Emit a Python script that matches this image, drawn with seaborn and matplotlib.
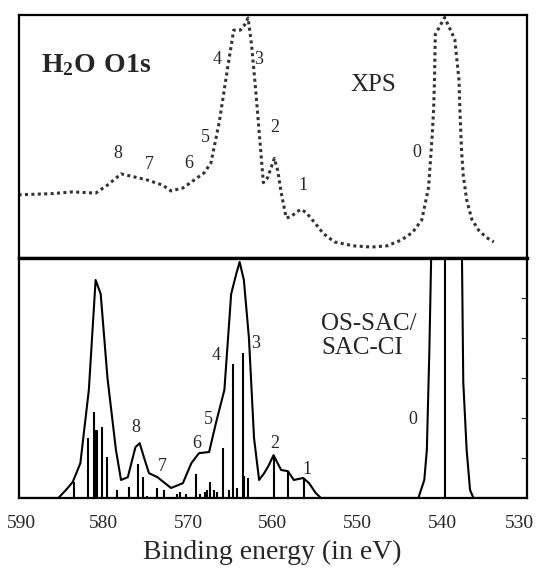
import numpy as np
import pandas as pd
import seaborn as sns
import matplotlib.pyplot as plt
from matplotlib.transforms import ScaledTranslation

# ----------- data -----------
# XPS spectrum (top panel), binding energy in eV and intensity (0-100 = panel height)
xps_energy = [590, 586, 583.6, 580.9, 579.5, 577.9, 576.5, 574.7, 573.0, 572.0, 570.6, 569.3,
              568.1, 567.3, 566.9, 566.3, 565.9, 565.3, 564.6, 563.8, 563.3, 562.9, 562.5, 562.0,
              561.5, 561.1, 560.6, 560.2, 559.8, 559.4, 559.0, 558.4, 557.8, 557.2, 556.6, 556.0,
              555.1, 554.0, 552.7, 550.5, 548.3, 546.5, 544.8, 543.5, 542.4, 541.6, 541.2, 541.0,
              540.9, 540.8, 539.7, 538.5, 538.0, 537.9, 537.7, 537.5, 537.1, 536.5, 535.7, 534.8, 533.9]
xps_intensity = [26, 26.5, 27.2, 26.7, 30, 34.6, 33.5, 32, 30, 27.6, 28.8, 32,
                 35, 39, 45.7, 56, 65, 78.6, 93.8, 93.8, 96, 98.8, 88, 69,
                 48, 31, 33, 37, 41, 36, 27, 16.5, 17, 19, 20, 18.5,
                 14.8, 10, 6.6, 5, 4.5, 5, 7.4, 10.5, 15.6, 29, 48.6, 61,
                 73, 92, 99, 90, 73, 61, 44, 34, 24, 16, 11.5, 8.5, 6.6]

# OS-SAC/SAC-CI envelope (bottom panel)
calc_energy = [590, 585.3, 584.4, 583.6, 582.7, 581.7, 580.9, 580.3, 579.5, 578.5, 577.9, 577.1,
               576.2, 575.7, 575.2, 574.6, 573.6, 572.0, 570.6, 569.6, 568.7, 567.5, 566.7, 565.7,
               564.9, 564.3, 563.9, 563.4, 562.8, 562.2, 561.6, 561.0, 560.5, 559.9, 559.0, 558.2,
               557.5, 556.4, 555.7, 554.9, 554.3, 542.8, 542.1, 541.8, 541.5, 541.2, 539.6, 537.7,
               537.5, 537.1, 536.7, 536.3, 530]
calc_intensity = [0, 0, 0.2, 0.4, 0.87, 2.7, 5.45, 5.1, 3.0, 1.2, 0.45, 0.52,
                  1.27, 1.37, 1.02, 0.62, 0.52, 0.25, 0.37, 0.87, 1.12, 1.15, 1.87, 2.7,
                  5.1, 5.6, 5.9, 5.45, 4.0, 1.5, 0.45, 0.62, 0.8, 1.07, 0.7, 0.67,
                  0.45, 0.5, 0.37, 0.12, 0, 0, 0.45, 1.2, 3.7, 7, 12, 7,
                  2.9, 1.2, 0.2, 0, 0]

# stick spectrum (individual states)
stick_energy = [583.5, 581.8, 581.1, 580.9, 580.7, 580.1, 579.5, 578.4, 577.0, 575.9, 575.3,
                574.8, 573.7, 572.8, 571.3, 570.9, 570.2, 569.0, 568.6, 568.0, 567.7, 567.4,
                566.9, 566.6, 565.9, 565.1, 564.7, 564.2, 563.5, 563.4, 562.9, 559.9, 558.2, 556.3,
                539.6]
stick_height = [0.4, 1.5, 2.15, 1.7, 1.7, 1.78, 1.03, 0.2, 0.28, 0.85, 0.53,
                0.05, 0.25, 0.2, 0.1, 0.15, 0.1, 0.6, 0.1, 0.15, 0.2, 0.4,
                0.2, 0.15, 1.25, 0.2, 3.35, 0.25, 3.63, 0.55, 0.5, 1.07, 0.67, 0.5,
                12]

# peak labels
xps_lab_text = ["8", "7", "6", "5", "4", "3", "2", "1"]
xps_lab_x = [578.3, 574.6, 569.9, 567.9, 566.6, 561.6, 559.8, 556.4]
xps_lab_y = [43.2, 38.3, 39, 49.4, 81.5, 81.5, 53.5, 30]

calc_lab_text = ["8", "7", "6", "5", "4", "3", "2", "1", "0"]
calc_lab_x = [576.2, 573.0, 569.0, 567.6, 566.7, 562.0, 559.8, 556.0, 543.4]
calc_lab_y = [1.75, 0.78, 1.35, 1.95, 3.55, 3.85, 1.37, 0.7, 1.95]

xps_df = pd.DataFrame({"energy": xps_energy, "intensity": xps_intensity})
calc_df = pd.DataFrame({"energy": calc_energy, "intensity": calc_intensity})

# ----------- figure -----------
sns.set_style("white")
plt.rcParams["font.family"] = ["Liberation Serif", "DejaVu Serif"]
plt.rcParams["mathtext.fontset"] = "custom"
plt.rcParams["mathtext.rm"] = "Liberation Serif"
plt.rcParams["mathtext.bf"] = "Liberation Serif:bold"

fig = plt.figure(figsize=(5.37, 5.69), dpi=100)
ax_top = fig.add_axes([0.0345, 0.5466, 0.9465, 0.427])
ax_bot = fig.add_axes([0.0345, 0.1248, 0.9465, 0.4218], sharex=ax_top)

# top: XPS (dotted experimental points)
sns.lineplot(data=xps_df, x="energy", y="intensity", ax=ax_top, sort=False,
             color="#333333", linewidth=2.2, linestyle=(0, (1, 1.1)))
ax_top.set_ylim(0, 100)
ax_top.text(587.4, 79.4, r"$\mathbf{H_2O\ O1s}$", fontsize=20,
            va="center", ha="left")
ax_top.text(548.1, 71.2, "XPS", fontsize=18, va="center", ha="center")
for t, x, y in zip(xps_lab_text, xps_lab_x, xps_lab_y):
    ax_top.text(x, y, t, fontsize=13, ha="center", va="center")
ax_top.text(543.0, 43.6, "0", fontsize=13, ha="center", va="center")

# bottom: OS-SAC/SAC-CI envelope + sticks
sns.lineplot(data=calc_df, x="energy", y="intensity", ax=ax_bot, sort=False,
             color="black", linewidth=1.5)
ax_bot.vlines(stick_energy, 0, stick_height, color="black", linewidth=1.5)
ax_bot.set_ylim(0, 6)
ax_bot.text(554.3, 4.05, "OS-SAC/\nSAC-CI", fontsize=18, ha="left", va="center",
            linespacing=1.15)
for t, x, y in zip(calc_lab_text, calc_lab_x, calc_lab_y):
    ax_bot.text(x, y, t, fontsize=13, ha="center", va="center")

ax_bot.set_xlim(590, 530)
ax_bot.set_xticks([590, 580, 570, 560, 550, 540, 530])
ax_bot.tick_params(axis="x", direction="out", length=2, width=0.8, labelsize=14, pad=10)
ax_bot.set_yticks([1, 2, 3, 4, 5])
ax_bot.tick_params(axis="y", left=False, right=True, direction="in", length=4,
                   labelleft=False, labelright=False)
ax_bot.set_xlabel("Binding energy (in eV)", fontsize=20, labelpad=6)
ax_bot.set_ylabel("")

# keep the outer tick labels inside the canvas
xlabels = ax_bot.get_xticklabels()
xlabels[0].set_transform(xlabels[0].get_transform() + ScaledTranslation(0.03, 0, fig.dpi_scale_trans))
xlabels[-1].set_transform(xlabels[-1].get_transform() + ScaledTranslation(-0.07, 0, fig.dpi_scale_trans))

ax_top.set_xlabel("")
ax_top.set_ylabel("")
ax_top.set_yticks([])
ax_top.tick_params(axis="x", bottom=False, labelbottom=False)

for ax in (ax_top, ax_bot):
    for s in ax.spines.values():
        s.set_color("black")
        s.set_linewidth(1.6)
ax_bot.spines["top"].set_linewidth(2.4)

fig.savefig("out.png", dpi=100)
